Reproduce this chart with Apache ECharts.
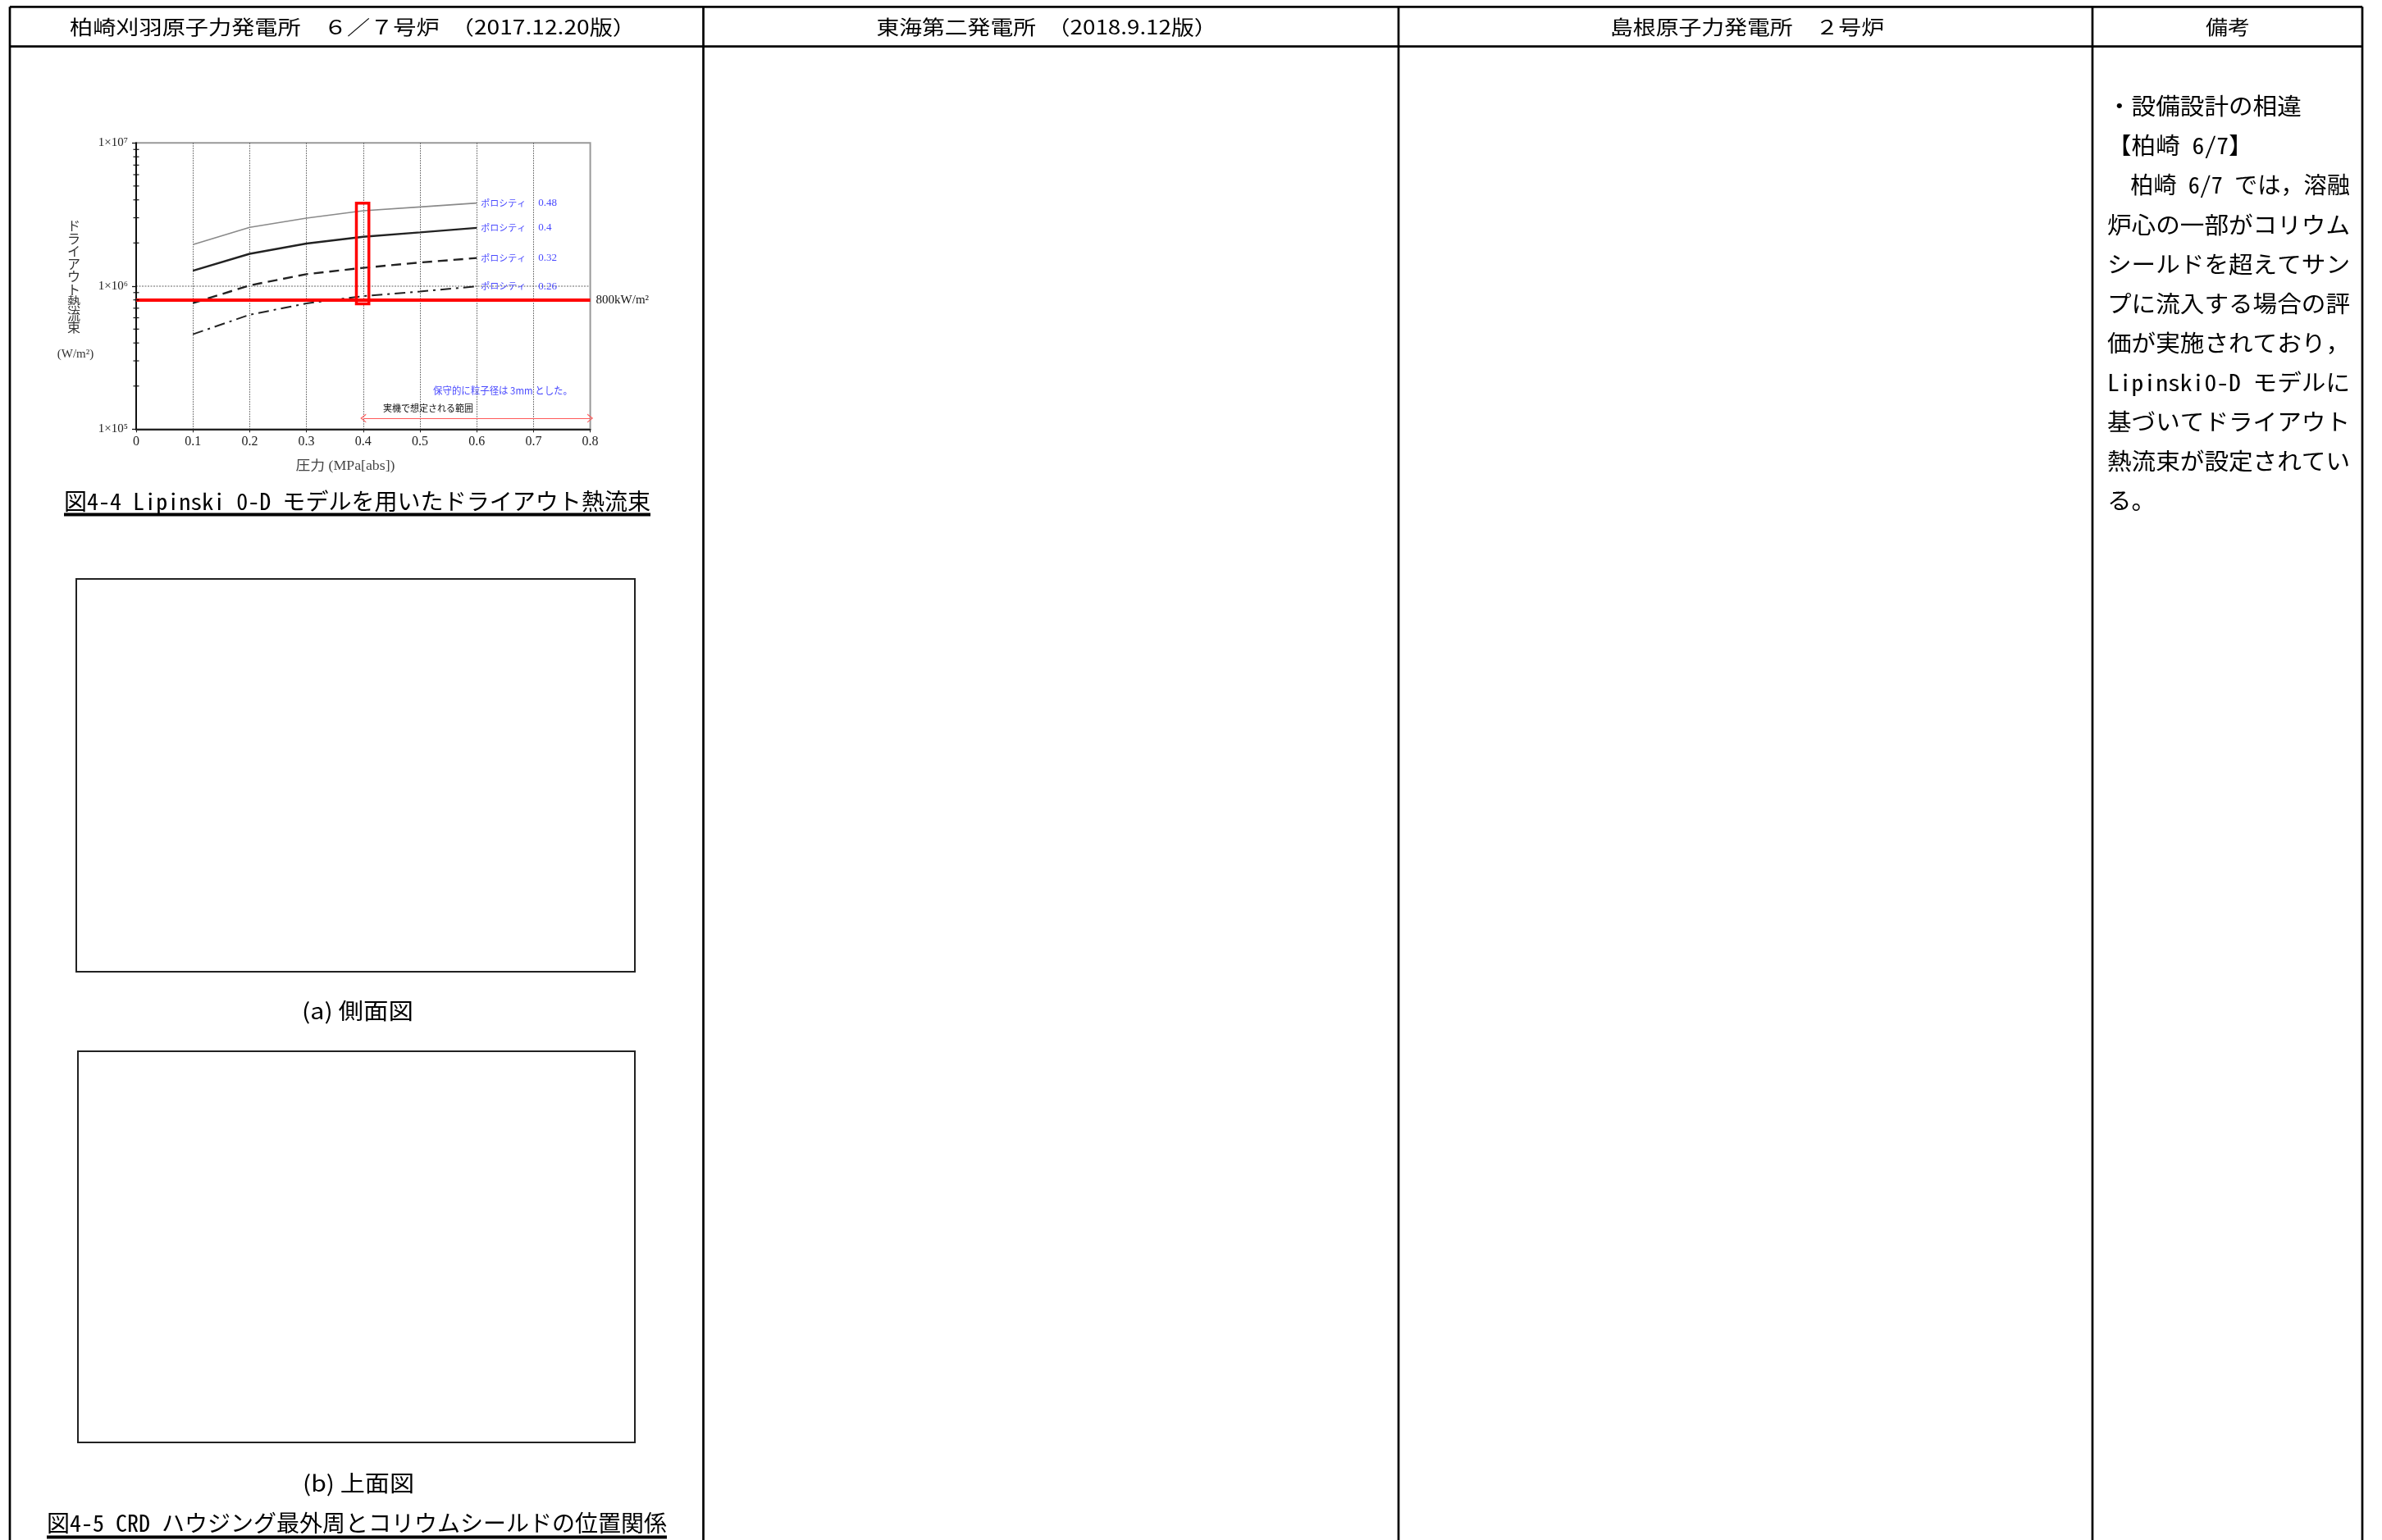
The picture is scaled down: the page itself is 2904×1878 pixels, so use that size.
<!DOCTYPE html>
<html><head><meta charset="utf-8">
<script src="https://cdn.jsdelivr.net/npm/echarts@6/dist/echarts.min.js"></script>
<style>html,body{margin:0;padding:0;background:#fff}#c{width:2904px;height:1878px}</style>
</head><body><div id="c"></div>
<script>
// ---- data ----
const pressure = [0.1, 0.2, 0.3, 0.4, 0.5, 0.6];            // MPa[abs]
const flux048 = [1.95e6, 2.57e6, 2.98e6, 3.36e6, 3.57e6, 3.80e6]; // W/m2
const flux040 = [1.28e6, 1.68e6, 1.98e6, 2.21e6, 2.37e6, 2.55e6];
const flux032 = [7.6e5, 1.01e6, 1.21e6, 1.34e6, 1.46e6, 1.57e6];
const flux026 = [4.6e5, 6.3e5, 7.56e5, 8.5e5, 9.15e5, 9.95e5];
const porosityLabels = ['0.48', '0.4', '0.32', '0.26'];
const supDigits = {5: '⁵', 6: '⁶', 7: '⁷'};
const minorTicks = [2e5,3e5,4e5,5e5,6e5,7e5,8e5,9e5,2e6,3e6,4e6,5e6,6e6,7e6,8e6,9e6];
const criterionFlux = 8e5;        // 800kW/m2
const criterionLabel = '800kW/m²';
const rangeArrowX = [0.4, 0.8];
const rangeArrowY = 1.19e5;
const highlightX = [0.388, 0.41];
const highlightY = [7.5e5, 3.8e6];

const headers = ['柏崎刈羽原子力発電所　６／７号炉　（2017.12.20版）', '東海第二発電所　（2018.9.12版）', '島根原子力発電所　２号炉', '備考'];
const remarks = ['・設備設計の相違', '【柏崎 6/7】', '　柏崎 6/7 では，溶融', '炉心の一部がコリウム', 'シールドを超えてサン', 'プに流入する場合の評', '価が実施されており，', 'Lipinski0-D モデルに', '基づいてドライアウト', '熱流束が設定されてい', 'る。'];
const caption44 = '図4-4 Lipinski 0-D モデルを用いたドライアウト熱流束';
const caption45 = '図4-5 CRD ハウジング最外周とコリウムシールドの位置関係';
const subA = '(a) 側面図';
const subB = '(b) 上面図';
const yTitle = 'ドライアウト熱流束';
const yUnit = '(W/m²)';
const xTitle = '圧力 (MPa[abs])';
const noteBlue = '保守的に粒子径は 3mm とした。';
const noteRange = '実機で想定される範囲';

// ---- helpers ----
const JP = '"Noto Sans CJK JP", sans-serif';
const JPM = '"Noto Sans Mono CJK JP", "Noto Sans CJK JP", sans-serif';
const SERIF = '"Liberation Serif", "DejaVu Serif", "Noto Sans CJK JP", serif';
const mctx = document.createElement('canvas').getContext('2d');
function tw(text, size, fam) { mctx.font = size + 'px ' + fam; return mctx.measureText(text).width; }
function T(text, x, y, size, fam, o) {
  o = o || {};
  const el = { type: 'text', x: x, y: y, silent: true, z: 10,
    style: { text: text, fontSize: size, fontFamily: fam, fill: o.color || '#000',
      align: o.align || 'left', verticalAlign: 'middle', lineHeight: o.lineHeight } };
  if (o.width) el.scaleX = o.width / tw(text, size, fam);
  return el;
}
function L(x1, y1, x2, y2, w, c) {
  return { type: 'line', silent: true, z: 10, shape: { x1: x1, y1: y1, x2: x2, y2: y2 }, style: { stroke: c || '#000', lineWidth: w } };
}
function R(x, y, w, h) {
  return { type: 'rect', silent: true, z: 10, shape: { x: x, y: y, width: w, height: h }, style: { fill: 'rgba(0,0,0,0)', stroke: '#222', lineWidth: 2 } };
}

const graphics = [];
// table frame
const TW = 2.7;
graphics.push(L(12, 8.3, 2880, 8.3, TW), L(12, 56.7, 2880, 56.7, TW));
[12, 857.5, 1705, 2551, 2880].forEach(x => graphics.push(L(x, 8.3, x, 1878, TW)));
// headers
graphics.push(T(headers[0], 430, 32.5, 24, JP, { align: 'center', width: 690 }));
graphics.push(T(headers[1], 1276, 32.5, 24, JP, { align: 'center', width: 415 }));
graphics.push(T(headers[2], 2130, 32.5, 24, JP, { align: 'center', width: 334 }));
graphics.push(T(headers[3], 2716, 32.5, 24, JP, { align: 'center', width: 54 }));
// remarks
const cjkScale = 296 / tw('炉心の一部がコリウム', 28, JPM);
remarks.forEach((s, i) => {
  const full = i >= 2 && i <= 9;
  const el = T(s, 2569, 129.6 + i * 48.1, 28, JPM, full ? { width: 296 } : {});
  if (!full) el.scaleX = cjkScale;
  graphics.push(el);
});
// chart captions / boxes
graphics.push(T(caption44, 435.5, 611, 28, JPM, { align: 'center', width: 715 }));
graphics.push(L(78, 627.5, 793, 627.5, 4));
graphics.push(R(93, 706, 681, 479));
graphics.push(T(subA, 436, 1233, 27, JP, { align: 'center', width: 136 }));
graphics.push(R(95, 1282, 679, 477));
graphics.push(T(subB, 437, 1809, 27, JP, { align: 'center', width: 136 }));
graphics.push(T(caption45, 435, 1857.5, 28, JPM, { align: 'center', width: 756 }));
graphics.push(L(57, 1874.5, 813, 1874.5, 4));
// chart axis titles and notes
graphics.push(T(yTitle.split('').join('\n'), 90, 337, 16, JP, { align: 'center', color: '#333', lineHeight: 15.5 }));
graphics.push(T(yUnit, 92, 432, 15, SERIF, { align: 'center', color: '#333' }));
graphics.push(T(xTitle, 421, 569, 16, SERIF, { align: 'center', color: '#444', width: 121 }));
graphics.push(T(noteBlue, 528, 476, 12, JP, { color: '#4a4aff', width: 170 }));
graphics.push(T(noteRange, 467, 498, 11, JP, { color: '#111', width: 110 }));

const chevron = 'path://M0,10 L5,0 L10,10 L8.8,10 L5,2.6 L1.2,10 Z';
function endLbl(i) {
  return { show: true, distance: 5, formatter: '{a|ポロシティ}{b|' + porosityLabels[i] + '}',
    rich: { a: { color: '#4a4aff', fontSize: 11, fontFamily: JP },
            b: { color: '#4a4aff', fontSize: 13, fontFamily: SERIF, padding: [0, 0, 0, 15] } } };
}
function lineSeries(vals, i, ls) {
  return { type: 'line', silent: true, symbol: 'none', animation: false,
    data: pressure.map((p, k) => [p, vals[k]]), lineStyle: ls, itemStyle: { color: ls.color },
    endLabel: endLbl(i), z: 3 };
}

const chart = echarts.init(document.getElementById('c'), null, { renderer: 'canvas' });
chart.setOption({
  backgroundColor: '#fff',
  animation: false,
  grid: { left: 166, top: 174.3, width: 553.6, height: 349, show: true, borderColor: '#999', borderWidth: 2, backgroundColor: 'rgba(0,0,0,0)' },
  xAxis: { type: 'value', min: 0, max: 0.8, interval: 0.1,
    axisLine: { show: true, lineStyle: { color: '#222', width: 2 } },
    axisTick: { show: true, length: 4, lineStyle: { color: '#222' } },
    axisLabel: { margin: 7, fontSize: 16, fontFamily: SERIF, color: '#222', formatter: v => v === 0 ? '0' : v.toFixed(1) },
    splitLine: { show: true, showMinLine: false, showMaxLine: false, lineStyle: { color: '#555', type: [1.5, 1.5], width: 1 } } },
  yAxis: { type: 'log', logBase: 10, min: 1e5, max: 1e7,
    axisLine: { show: true, lineStyle: { color: '#111', width: 2 } },
    axisTick: { show: true, length: 5, lineStyle: { color: '#111', width: 1.3 } },
    axisLabel: { margin: 10, fontSize: 15, fontFamily: SERIF, color: '#222', formatter: v => '1×10' + supDigits[Math.round(Math.log10(v))] },
    splitLine: { show: true, showMinLine: false, showMaxLine: false, lineStyle: { color: '#999', type: [2, 1.5], width: 1.6 } },
    minorTick: { show: false } },
  series: [
    lineSeries(flux048, 0, { color: '#8a8a8a', width: 1.6, type: 'solid' }),
    Object.assign(lineSeries(flux040, 1, { color: '#222', width: 2.4, type: 'solid' }), {
      markLine: { silent: true, symbol: ['none', 'none'], animation: false, z: 4,
        data: [
          { yAxis: criterionFlux, lineStyle: { color: '#ff0000', width: 4, type: 'solid' },
            label: { show: true, position: 'end', distance: 7, formatter: criterionLabel, color: '#111', fontSize: 15, fontFamily: SERIF } },
          [ { coord: [rangeArrowX[0], rangeArrowY], symbol: chevron, symbolSize: [11, 7], lineStyle: { color: '#ff5a5a', width: 1.2, type: 'solid' }, label: { show: false } },
            { coord: [rangeArrowX[1], rangeArrowY], symbol: chevron, symbolSize: [11, 7] } ]
        ] },
      markArea: { silent: true, z: 5, itemStyle: { color: 'rgba(0,0,0,0)', borderColor: '#ff0000', borderWidth: 3.5 }, label: { show: false },
        data: [[ { xAxis: highlightX[0], yAxis: highlightY[1] }, { xAxis: highlightX[1], yAxis: highlightY[0] } ]] } }),
    lineSeries(flux032, 2, { color: '#222', width: 2.4, type: [12, 7] }),
    lineSeries(flux026, 3, { color: '#222', width: 2, type: [13, 6, 3, 6] }),
    { type: 'custom', silent: true, clip: false, animation: false, z: 6,
      data: minorTicks.map(v => [0, v]),
      renderItem: (params, api) => {
        const p = api.coord([api.value(0), api.value(1)]);
        return { type: 'line', shape: { x1: p[0] - 3.5, y1: p[1], x2: p[0] + 3.5, y2: p[1] }, style: { stroke: '#111', lineWidth: 1.2 } };
      } }
  ],
  graphic: graphics
});
</script>
</body></html>
